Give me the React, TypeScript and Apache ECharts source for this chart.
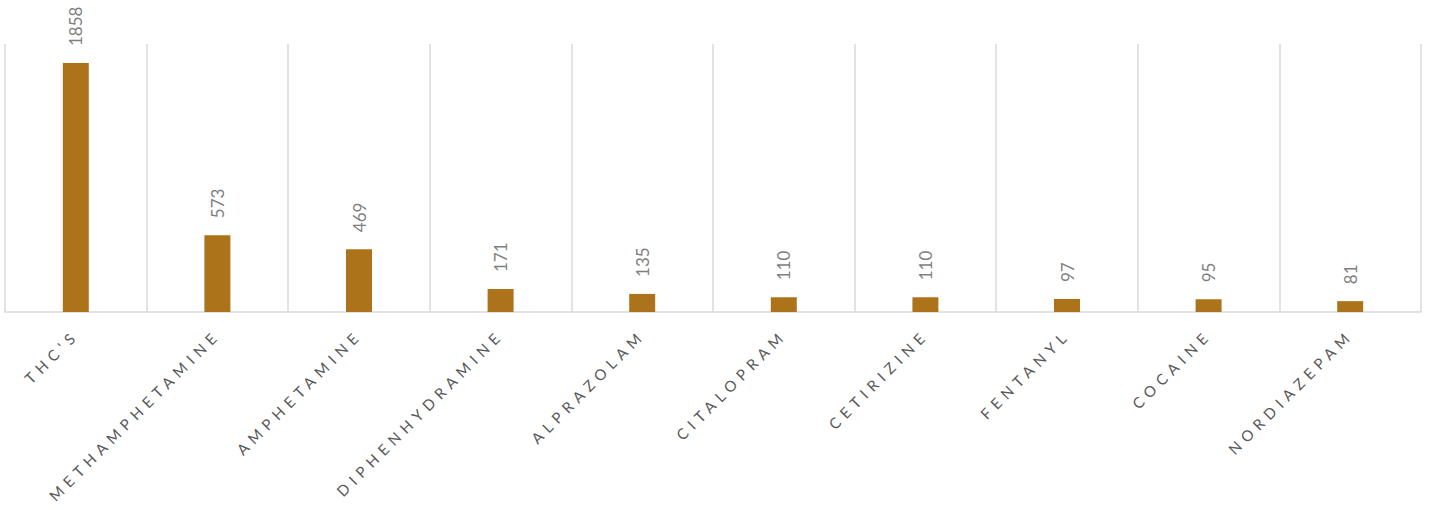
import React, { useEffect, useRef } from "react";
import * as echarts from "echarts";

const categories = [
  "THC'S",
  "METHAMPHETAMINE",
  "AMPHETAMINE",
  "DIPHENHYDRAMINE",
  "ALPRAZOLAM",
  "CITALOPRAM",
  "CETIRIZINE",
  "FENTANYL",
  "COCAINE",
  "NORDIAZEPAM",
];
const values = [1858, 573, 469, 171, 135, 110, 110, 97, 95, 81];

export default function App() {
  const ref = useRef<HTMLDivElement>(null);
  useEffect(() => {
    if (!ref.current) return;
    const chart = echarts.init(ref.current, undefined, { renderer: "svg" });
    const spaceLabels = () => {
      if (!ref.current) return;
      ref.current.querySelectorAll("text").forEach((t) => {
        const s = (t.textContent || "").trim();
        if (categories.indexOf(s) >= 0) {
          (t as SVGTextElement).style.letterSpacing = "5.5px";
          t.setAttribute("letter-spacing", "5.5");
        }
      });
    };
    chart.on("finished", spaceLabels);
    chart.setOption({
      animation: false,
      backgroundColor: "#ffffff",
      grid: { left: 5, right: 8, top: 44, bottom: 198, containLabel: false },
      xAxis: {
        type: "category",
        data: categories,
        boundaryGap: true,
        axisLine: { show: true, lineStyle: { color: "#D9D9D9", width: 1.5 } },
        axisTick: { show: false },
        splitLine: { show: true, lineStyle: { color: "#D9D9D9", width: 1.5 } },
        axisLabel: {
          interval: 0,
          rotate: 45,
          margin: 20,
          color: "#595959",
          fontFamily: "Lato",
          fontSize: 15,
        },
      },
      yAxis: {
        type: "value",
        min: 0,
        max: 2000,
        show: false,
        splitLine: { show: false },
      },
      series: [
        {
          type: "bar",
          data: values,
          barWidth: 26,
          itemStyle: { color: "#AD731B" },
          label: {
            show: true,
            position: "top",
            rotate: 90,
            align: "left",
            verticalAlign: "middle",
            distance: 17,
            color: "#7F7F7F",
            fontFamily: "Lato",
            fontSize: 17,
          },
        },
      ],
    });
    spaceLabels();
    const timer = setTimeout(spaceLabels, 50);
    return () => {
      clearTimeout(timer);
      chart.dispose();
    };
  }, []);
  return (
    <div
      ref={ref}
      style={{ position: "fixed", left: 0, top: 0, width: 1429, height: 510 }}
    />
  );
}
